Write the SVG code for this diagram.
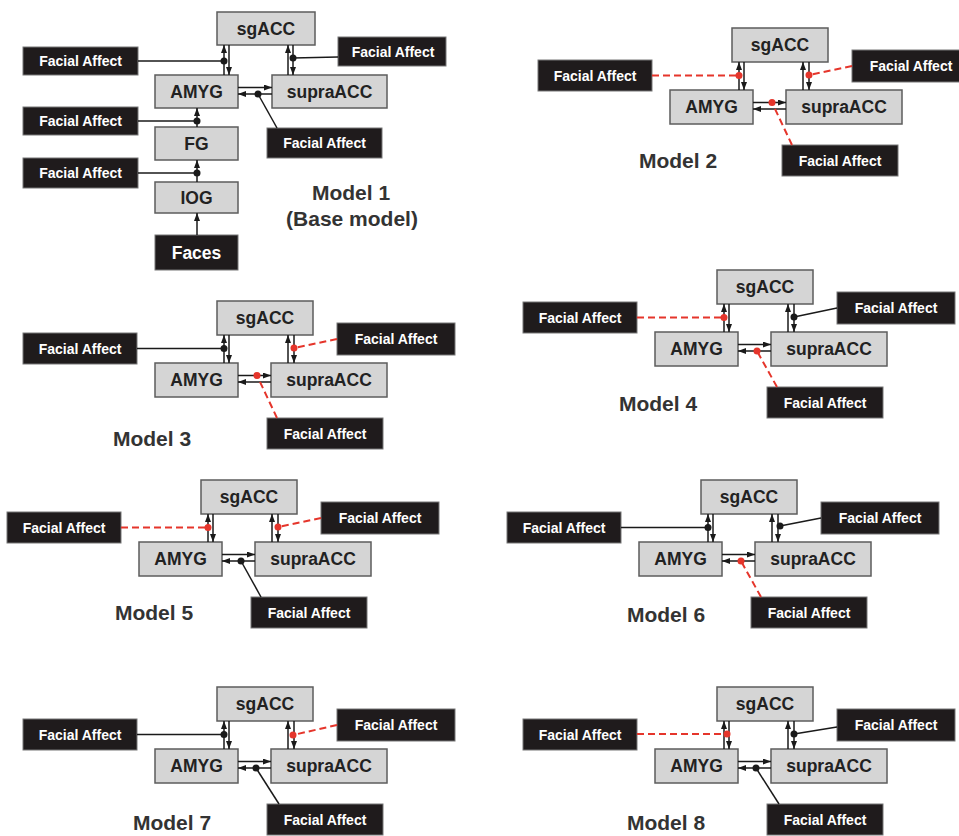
<svg xmlns="http://www.w3.org/2000/svg" width="959" height="836" viewBox="0 0 959 836">
<defs>
<marker id="ah" markerUnits="userSpaceOnUse" markerWidth="8" markerHeight="6" refX="8" refY="3" orient="auto"><path d="M0,0 L8,3 L0,6 z" fill="#1a1a1a"/></marker>
</defs>
<style>
.gb{fill:#d5d5d5;stroke:#5c5c5c;stroke-width:1.5}
.bb{fill:#1f1b1c;stroke:#777;stroke-width:1}
.nt{font-family:"Liberation Sans",Arial,sans-serif;font-weight:bold;font-size:17.5px;fill:#222;text-anchor:middle}
.ft{font-family:"Liberation Sans",Arial,sans-serif;font-weight:bold;font-size:14px;fill:#fff;text-anchor:middle}
.fc{font-family:"Liberation Sans",Arial,sans-serif;font-weight:bold;font-size:17.5px;fill:#fff;text-anchor:middle}
.ml{font-family:"Liberation Sans",Arial,sans-serif;font-weight:bold;font-size:21px;fill:#333;text-anchor:middle}
.ar{stroke:#1a1a1a;stroke-width:1.5;fill:none}
.mb{stroke:#1a1a1a;stroke-width:1.5;fill:none}
.mr{stroke:#e5352b;stroke-width:2;stroke-dasharray:7 4;fill:none}
.db{fill:#1a1a1a}
.dr{fill:#e5352b}
</style>
<rect x="0" y="0" width="959" height="836" fill="#ffffff"/>

<!-- Model 1 -->
<g id="model1" transform="translate(155,75)">
<g id="m1-sgACC"><rect class="gb" x="62" y="-63" width="98" height="33"/><text class="nt" x="111" y="-40.5">sgACC</text></g>
<g id="m1-AMYG"><rect class="gb" x="0" y="0" width="83" height="33"/><text class="nt" x="41.5" y="22.5">AMYG</text></g>
<g id="m1-supraACC"><rect class="gb" x="117" y="0" width="115" height="33"/><text class="nt" x="174.5" y="22.5">supraACC</text></g>
<g id="m1-FG"><rect class="gb" x="0" y="52" width="83" height="33"/><text class="nt" x="41.5" y="74.5">FG</text></g>
<g id="m1-IOG"><rect class="gb" x="0" y="107" width="83" height="31"/><text class="nt" x="41.5" y="128.5">IOG</text></g>
<g id="m1-Faces"><rect class="bb" x="0" y="160" width="83" height="35"/><text class="fc" x="41.5" y="183.5">Faces</text></g>
<g id="m1-fa-left1"><rect class="bb" x="-132" y="-28" width="115" height="28"/><text class="ft" x="-74.5" y="-9">Facial Affect</text></g>
<g id="m1-fa-right"><rect class="bb" x="183" y="-38" width="108" height="29"/><text class="ft" x="238" y="-18.5">Facial Affect</text></g>
<g id="m1-fa-bottom"><rect class="bb" x="112" y="53" width="115" height="30"/><text class="ft" x="169.5" y="73">Facial Affect</text></g>
<g id="m1-fa-left2"><rect class="bb" x="-132" y="32" width="115" height="28"/><text class="ft" x="-74.5" y="51">Facial Affect</text></g>
<g id="m1-fa-left3"><rect class="bb" x="-132" y="83" width="115" height="30"/><text class="ft" x="-74.5" y="103">Facial Affect</text></g>
<g id="m1-connectors">
<line class="ar" x1="69" y1="0" x2="69" y2="-30" marker-end="url(#ah)"/>
<line class="ar" x1="74" y1="-30" x2="74" y2="0" marker-end="url(#ah)"/>
<line class="ar" x1="133" y1="0" x2="133" y2="-30" marker-end="url(#ah)"/>
<line class="ar" x1="138" y1="-30" x2="138" y2="0" marker-end="url(#ah)"/>
<line class="ar" x1="83" y1="12.5" x2="117" y2="12.5" marker-end="url(#ah)"/>
<line class="ar" x1="117" y1="19" x2="83" y2="19" marker-end="url(#ah)"/>
<line class="ar" x1="42" y1="52" x2="42" y2="33" marker-end="url(#ah)"/>
<line class="ar" x1="42" y1="107" x2="42" y2="85" marker-end="url(#ah)"/>
<line class="ar" x1="42" y1="160" x2="42" y2="138" marker-end="url(#ah)"/>
<line class="mb" x1="-17" y1="-14" x2="69" y2="-14"/><circle class="db" cx="69" cy="-14" r="3.5"/>
<line class="mb" x1="183" y1="-18" x2="138" y2="-17"/><circle class="db" cx="138" cy="-17" r="3.5"/>
<line class="mb" x1="122" y1="53" x2="103" y2="19"/><circle class="db" cx="103" cy="19" r="3.5"/>
<line class="mb" x1="-17" y1="46" x2="42" y2="46"/><circle class="db" cx="42" cy="46" r="3.5"/>
<line class="mb" x1="-17" y1="98" x2="42" y2="98"/><circle class="db" cx="42" cy="98" r="3.5"/>
</g>
</g>
<text class="ml" x="351" y="200">Model 1</text>
<text class="ml" x="352" y="226">(Base model)</text>

<!-- Model 2 -->
<g id="model2" transform="translate(670,90)">
<g id="m2-sgACC"><rect class="gb" x="62" y="-62" width="96" height="34"/><text class="nt" x="110" y="-39">sgACC</text></g>
<g id="m2-AMYG"><rect class="gb" x="0" y="0" width="83" height="34"/><text class="nt" x="41.5" y="23">AMYG</text></g>
<g id="m2-supraACC"><rect class="gb" x="116" y="0" width="116" height="34"/><text class="nt" x="174" y="23">supraACC</text></g>
<g id="m2-fa-left"><rect class="bb" x="-132" y="-30" width="114" height="31"/><text class="ft" x="-75" y="-9.5">Facial Affect</text></g>
<g id="m2-fa-right"><rect class="bb" x="182" y="-40" width="118" height="32"/><text class="ft" x="241" y="-19">Facial Affect</text></g>
<g id="m2-fa-bottom"><rect class="bb" x="112" y="55" width="116" height="31"/><text class="ft" x="170" y="75.5">Facial Affect</text></g>
<g id="m2-connectors">
<line class="ar" x1="69" y1="0" x2="69" y2="-28" marker-end="url(#ah)"/>
<line class="ar" x1="74" y1="-28" x2="74" y2="0" marker-end="url(#ah)"/>
<line class="ar" x1="133" y1="0" x2="133" y2="-28" marker-end="url(#ah)"/>
<line class="ar" x1="139" y1="-28" x2="139" y2="0" marker-end="url(#ah)"/>
<line class="ar" x1="83" y1="12.5" x2="116" y2="12.5" marker-end="url(#ah)"/>
<line class="ar" x1="116" y1="19" x2="83" y2="19" marker-end="url(#ah)"/>
<line class="mr" x1="-18" y1="-14.5" x2="69" y2="-14.5"/><circle class="dr" cx="69" cy="-14.5" r="3.5"/>
<line class="mr" x1="182" y1="-24" x2="139" y2="-15"/><circle class="dr" cx="139" cy="-15" r="3.5"/>
<line class="mr" x1="122" y1="55" x2="102" y2="12.5"/><circle class="dr" cx="102" cy="12.5" r="3.5"/>
</g>
</g>
<text class="ml" x="678" y="168">Model 2</text>

<!-- Model 3 -->
<g id="model3" transform="translate(155,363)">
<g id="m3-sgACC"><rect class="gb" x="62" y="-62" width="96" height="34"/><text class="nt" x="110" y="-39">sgACC</text></g>
<g id="m3-AMYG"><rect class="gb" x="0" y="0" width="83" height="34"/><text class="nt" x="41.5" y="23">AMYG</text></g>
<g id="m3-supraACC"><rect class="gb" x="116" y="0" width="116" height="34"/><text class="nt" x="174" y="23">supraACC</text></g>
<g id="m3-fa-left"><rect class="bb" x="-132" y="-30" width="114" height="31"/><text class="ft" x="-75" y="-9.5">Facial Affect</text></g>
<g id="m3-fa-right"><rect class="bb" x="182" y="-40" width="118" height="32"/><text class="ft" x="241" y="-19">Facial Affect</text></g>
<g id="m3-fa-bottom"><rect class="bb" x="112" y="55" width="116" height="31"/><text class="ft" x="170" y="75.5">Facial Affect</text></g>
<g id="m3-connectors">
<line class="ar" x1="69" y1="0" x2="69" y2="-28" marker-end="url(#ah)"/>
<line class="ar" x1="74" y1="-28" x2="74" y2="0" marker-end="url(#ah)"/>
<line class="ar" x1="133" y1="0" x2="133" y2="-28" marker-end="url(#ah)"/>
<line class="ar" x1="139" y1="-28" x2="139" y2="0" marker-end="url(#ah)"/>
<line class="ar" x1="83" y1="12.5" x2="116" y2="12.5" marker-end="url(#ah)"/>
<line class="ar" x1="116" y1="19" x2="83" y2="19" marker-end="url(#ah)"/>
<line class="mb" x1="-18" y1="-14.5" x2="69" y2="-14.5"/><circle class="db" cx="69" cy="-14.5" r="3.5"/>
<line class="mr" x1="182" y1="-24" x2="139" y2="-15"/><circle class="dr" cx="139" cy="-15" r="3.5"/>
<line class="mr" x1="122" y1="55" x2="102" y2="12.5"/><circle class="dr" cx="102" cy="12.5" r="3.5"/>
</g>
</g>
<text class="ml" x="152" y="446">Model 3</text>

<!-- Model 4 -->
<g id="model4" transform="translate(655,332)">
<g id="m4-sgACC"><rect class="gb" x="62" y="-62" width="96" height="34"/><text class="nt" x="110" y="-39">sgACC</text></g>
<g id="m4-AMYG"><rect class="gb" x="0" y="0" width="83" height="34"/><text class="nt" x="41.5" y="23">AMYG</text></g>
<g id="m4-supraACC"><rect class="gb" x="116" y="0" width="116" height="34"/><text class="nt" x="174" y="23">supraACC</text></g>
<g id="m4-fa-left"><rect class="bb" x="-132" y="-30" width="114" height="31"/><text class="ft" x="-75" y="-9.5">Facial Affect</text></g>
<g id="m4-fa-right"><rect class="bb" x="182" y="-40" width="118" height="32"/><text class="ft" x="241" y="-19">Facial Affect</text></g>
<g id="m4-fa-bottom"><rect class="bb" x="112" y="55" width="116" height="31"/><text class="ft" x="170" y="75.5">Facial Affect</text></g>
<g id="m4-connectors">
<line class="ar" x1="69" y1="0" x2="69" y2="-28" marker-end="url(#ah)"/>
<line class="ar" x1="74" y1="-28" x2="74" y2="0" marker-end="url(#ah)"/>
<line class="ar" x1="133" y1="0" x2="133" y2="-28" marker-end="url(#ah)"/>
<line class="ar" x1="139" y1="-28" x2="139" y2="0" marker-end="url(#ah)"/>
<line class="ar" x1="83" y1="12.5" x2="116" y2="12.5" marker-end="url(#ah)"/>
<line class="ar" x1="116" y1="19" x2="83" y2="19" marker-end="url(#ah)"/>
<line class="mr" x1="-18" y1="-14.5" x2="69" y2="-14.5"/><circle class="dr" cx="69" cy="-14.5" r="3.5"/>
<line class="mb" x1="182" y1="-24" x2="139" y2="-15"/><circle class="db" cx="139" cy="-15" r="3.5"/>
<line class="mr" x1="122" y1="55" x2="102" y2="19"/><circle class="dr" cx="102" cy="19" r="3.5"/>
</g>
</g>
<text class="ml" x="658" y="411">Model 4</text>

<!-- Model 5 -->
<g id="model5" transform="translate(139,542)">
<g id="m5-sgACC"><rect class="gb" x="62" y="-62" width="96" height="34"/><text class="nt" x="110" y="-39">sgACC</text></g>
<g id="m5-AMYG"><rect class="gb" x="0" y="0" width="83" height="34"/><text class="nt" x="41.5" y="23">AMYG</text></g>
<g id="m5-supraACC"><rect class="gb" x="116" y="0" width="116" height="34"/><text class="nt" x="174" y="23">supraACC</text></g>
<g id="m5-fa-left"><rect class="bb" x="-132" y="-30" width="114" height="31"/><text class="ft" x="-75" y="-9.5">Facial Affect</text></g>
<g id="m5-fa-right"><rect class="bb" x="182" y="-40" width="118" height="32"/><text class="ft" x="241" y="-19">Facial Affect</text></g>
<g id="m5-fa-bottom"><rect class="bb" x="112" y="55" width="116" height="31"/><text class="ft" x="170" y="75.5">Facial Affect</text></g>
<g id="m5-connectors">
<line class="ar" x1="69" y1="0" x2="69" y2="-28" marker-end="url(#ah)"/>
<line class="ar" x1="74" y1="-28" x2="74" y2="0" marker-end="url(#ah)"/>
<line class="ar" x1="133" y1="0" x2="133" y2="-28" marker-end="url(#ah)"/>
<line class="ar" x1="139" y1="-28" x2="139" y2="0" marker-end="url(#ah)"/>
<line class="ar" x1="83" y1="12.5" x2="116" y2="12.5" marker-end="url(#ah)"/>
<line class="ar" x1="116" y1="19" x2="83" y2="19" marker-end="url(#ah)"/>
<line class="mr" x1="-18" y1="-14.5" x2="69" y2="-14.5"/><circle class="dr" cx="69" cy="-14.5" r="3.5"/>
<line class="mr" x1="182" y1="-24" x2="139" y2="-15"/><circle class="dr" cx="139" cy="-15" r="3.5"/>
<line class="mb" x1="122" y1="55" x2="102" y2="19"/><circle class="db" cx="102" cy="19" r="3.5"/>
</g>
</g>
<text class="ml" x="154" y="620">Model 5</text>

<!-- Model 6 -->
<g id="model6" transform="translate(639,542)">
<g id="m6-sgACC"><rect class="gb" x="62" y="-62" width="96" height="34"/><text class="nt" x="110" y="-39">sgACC</text></g>
<g id="m6-AMYG"><rect class="gb" x="0" y="0" width="83" height="34"/><text class="nt" x="41.5" y="23">AMYG</text></g>
<g id="m6-supraACC"><rect class="gb" x="116" y="0" width="116" height="34"/><text class="nt" x="174" y="23">supraACC</text></g>
<g id="m6-fa-left"><rect class="bb" x="-132" y="-30" width="114" height="31"/><text class="ft" x="-75" y="-9.5">Facial Affect</text></g>
<g id="m6-fa-right"><rect class="bb" x="182" y="-40" width="118" height="32"/><text class="ft" x="241" y="-19">Facial Affect</text></g>
<g id="m6-fa-bottom"><rect class="bb" x="112" y="55" width="116" height="31"/><text class="ft" x="170" y="75.5">Facial Affect</text></g>
<g id="m6-connectors">
<line class="ar" x1="69" y1="0" x2="69" y2="-28" marker-end="url(#ah)"/>
<line class="ar" x1="74" y1="-28" x2="74" y2="0" marker-end="url(#ah)"/>
<line class="ar" x1="133" y1="0" x2="133" y2="-28" marker-end="url(#ah)"/>
<line class="ar" x1="139" y1="-28" x2="139" y2="0" marker-end="url(#ah)"/>
<line class="ar" x1="83" y1="12.5" x2="116" y2="12.5" marker-end="url(#ah)"/>
<line class="ar" x1="116" y1="19" x2="83" y2="19" marker-end="url(#ah)"/>
<line class="mb" x1="-18" y1="-14.5" x2="69" y2="-14.5"/><circle class="db" cx="69" cy="-14.5" r="3.5"/>
<line class="mb" x1="182" y1="-24" x2="141" y2="-16"/><circle class="db" cx="141" cy="-16" r="3.5"/>
<line class="mr" x1="122" y1="55" x2="102" y2="19"/><circle class="dr" cx="102" cy="19" r="3.5"/>
</g>
</g>
<text class="ml" x="666" y="622">Model 6</text>

<!-- Model 7 -->
<g id="model7" transform="translate(155,749)">
<g id="m7-sgACC"><rect class="gb" x="62" y="-62" width="96" height="34"/><text class="nt" x="110" y="-39">sgACC</text></g>
<g id="m7-AMYG"><rect class="gb" x="0" y="0" width="83" height="34"/><text class="nt" x="41.5" y="23">AMYG</text></g>
<g id="m7-supraACC"><rect class="gb" x="116" y="0" width="116" height="34"/><text class="nt" x="174" y="23">supraACC</text></g>
<g id="m7-fa-left"><rect class="bb" x="-132" y="-30" width="114" height="31"/><text class="ft" x="-75" y="-9.5">Facial Affect</text></g>
<g id="m7-fa-right"><rect class="bb" x="182" y="-40" width="118" height="32"/><text class="ft" x="241" y="-19">Facial Affect</text></g>
<g id="m7-fa-bottom"><rect class="bb" x="112" y="55" width="116" height="31"/><text class="ft" x="170" y="75.5">Facial Affect</text></g>
<g id="m7-connectors">
<line class="ar" x1="69" y1="0" x2="69" y2="-28" marker-end="url(#ah)"/>
<line class="ar" x1="74" y1="-28" x2="74" y2="0" marker-end="url(#ah)"/>
<line class="ar" x1="133" y1="0" x2="133" y2="-28" marker-end="url(#ah)"/>
<line class="ar" x1="139" y1="-28" x2="139" y2="0" marker-end="url(#ah)"/>
<line class="ar" x1="83" y1="12.5" x2="116" y2="12.5" marker-end="url(#ah)"/>
<line class="ar" x1="116" y1="19" x2="83" y2="19" marker-end="url(#ah)"/>
<line class="mb" x1="-18" y1="-14.5" x2="69" y2="-14.5"/><circle class="db" cx="69" cy="-14.5" r="3.5"/>
<line class="mr" x1="182" y1="-24" x2="138" y2="-14"/><circle class="dr" cx="138" cy="-14" r="3.5"/>
<line class="mb" x1="124" y1="55" x2="101" y2="19"/><circle class="db" cx="101" cy="19" r="3.5"/>
</g>
</g>
<text class="ml" x="172" y="830">Model 7</text>

<!-- Model 8 -->
<g id="model8" transform="translate(655,749)">
<g id="m8-sgACC"><rect class="gb" x="62" y="-62" width="96" height="34"/><text class="nt" x="110" y="-39">sgACC</text></g>
<g id="m8-AMYG"><rect class="gb" x="0" y="0" width="83" height="34"/><text class="nt" x="41.5" y="23">AMYG</text></g>
<g id="m8-supraACC"><rect class="gb" x="116" y="0" width="116" height="34"/><text class="nt" x="174" y="23">supraACC</text></g>
<g id="m8-fa-left"><rect class="bb" x="-132" y="-30" width="114" height="31"/><text class="ft" x="-75" y="-9.5">Facial Affect</text></g>
<g id="m8-fa-right"><rect class="bb" x="182" y="-40" width="118" height="32"/><text class="ft" x="241" y="-19">Facial Affect</text></g>
<g id="m8-fa-bottom"><rect class="bb" x="112" y="55" width="116" height="31"/><text class="ft" x="170" y="75.5">Facial Affect</text></g>
<g id="m8-connectors">
<line class="ar" x1="69" y1="0" x2="69" y2="-28" marker-end="url(#ah)"/>
<line class="ar" x1="74" y1="-28" x2="74" y2="0" marker-end="url(#ah)"/>
<line class="ar" x1="133" y1="0" x2="133" y2="-28" marker-end="url(#ah)"/>
<line class="ar" x1="139" y1="-28" x2="139" y2="0" marker-end="url(#ah)"/>
<line class="ar" x1="83" y1="12.5" x2="116" y2="12.5" marker-end="url(#ah)"/>
<line class="ar" x1="116" y1="19" x2="83" y2="19" marker-end="url(#ah)"/>
<line class="mr" x1="-18" y1="-15" x2="72" y2="-15"/><circle class="dr" cx="72" cy="-15" r="3.5"/>
<line class="mb" x1="182" y1="-22" x2="139" y2="-15"/><circle class="db" cx="139" cy="-15" r="3.5"/>
<line class="mb" x1="124" y1="55" x2="101" y2="19"/><circle class="db" cx="101" cy="19" r="3.5"/>
</g>
</g>
<text class="ml" x="666" y="830">Model 8</text>
</svg>
